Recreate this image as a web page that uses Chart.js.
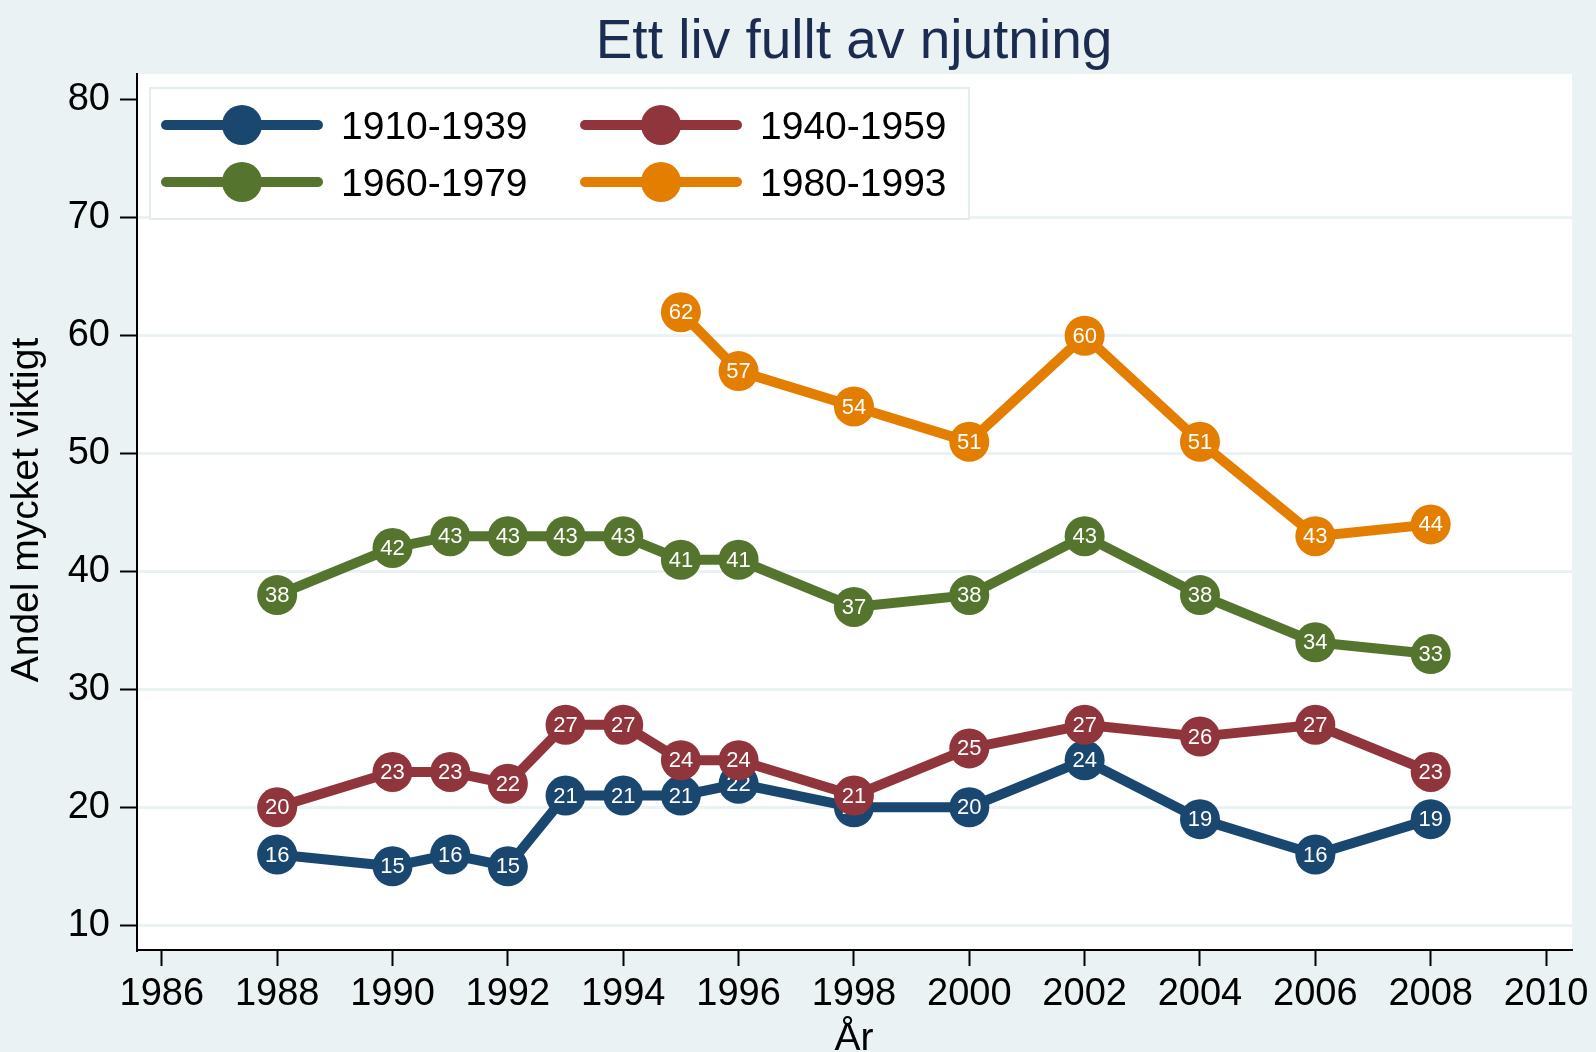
<!DOCTYPE html>
<html>
<head>
<meta charset="utf-8">
<script src="https://cdn.jsdelivr.net/npm/chart.js@4.4.0/dist/chart.umd.min.js"></script>
<style>
  html, body { margin: 0; padding: 0; background: #eaf2f3; }
  #wrap { width: 1596px; height: 1052px; position: relative; }
</style>
</head>
<body>
<div id="wrap"><canvas id="myChart"></canvas></div>
<script>
// survey years and share answering "very important", per birth cohort
const years = [1988, 1990, 1991, 1992, 1993, 1994, 1995, 1996, 1998, 2000, 2002, 2004, 2006, 2008];
const born1910 = [16, 15, 16, 15, 21, 21, 21, 22, 20, 20, 24, 19, 16, 19];
const born1940 = [20, 23, 23, 22, 27, 27, 24, 24, 21, 25, 27, 26, 27, 23];
const born1960 = [38, 42, 43, 43, 43, 43, 41, 41, 37, 38, 43, 38, 34, 33];
const born1980 = [null, null, null, null, null, null, 62, 57, 54, 51, 60, 51, 43, 44];
const cohorts = ["1910-1939", "1940-1959", "1960-1979", "1980-1993"];
const xTicks = [1986, 1988, 1990, 1992, 1994, 1996, 1998, 2000, 2002, 2004, 2006, 2008, 2010];
const yTicks = [10, 20, 30, 40, 50, 60, 70, 80];

const FONT = '"Liberation Sans", Arial, Helvetica, sans-serif';
const colors = ["#1a476f", "#90353b", "#55752f", "#e37e00"];

const makeSet = (label, values, color, order) => ({
  label,
  data: years.map((x, i) => ({ x, y: values[i] })).filter((p) => p.y !== null),
  borderColor: color,
  backgroundColor: color,
  pointBackgroundColor: color,
  pointBorderColor: color,
  borderWidth: 10,
  borderJoinStyle: "round",
  pointRadius: 20,
  pointHoverRadius: 20,
  pointBorderWidth: 0,
  tension: 0,
  order,
});

const plotBackground = {
  id: "plotBackground",
  beforeDraw(chart) {
    const { ctx, chartArea: a } = chart;
    ctx.save();
    ctx.fillStyle = "#ffffff";
    ctx.fillRect(a.left, a.top, a.right - a.left, a.bottom - a.top);
    ctx.restore();
  },
};

// white value labels inside each marker, drawn with its own series
const valueLabels = {
  id: "valueLabels",
  afterDatasetDraw(chart, args) {
    const ctx = chart.ctx;
    const ds = chart.data.datasets[args.index];
    ctx.save();
    ctx.fillStyle = "#ffffff";
    ctx.font = `22px ${FONT}`;
    ctx.textAlign = "center";
    ctx.textBaseline = "middle";
    args.meta.data.forEach((pt, i) => {
      ctx.fillText(String(Math.round(ds.data[i].y)), pt.x, pt.y + 1);
    });
    ctx.restore();
  },
};

const decorations = {
  id: "decorations",
  afterDraw(chart) {
    const ctx = chart.ctx;
    ctx.save();

    // title
    ctx.fillStyle = "#1c2b50";
    ctx.font = `55px ${FONT}`;
    ctx.textAlign = "center";
    ctx.textBaseline = "alphabetic";
    ctx.fillText("Ett liv fullt av njutning", 854, 58);

    // axis titles
    ctx.fillStyle = "#000000";
    ctx.font = `39px ${FONT}`;
    ctx.fillText("År", 854, 1050);
    ctx.save();
    ctx.translate(38, 510);
    ctx.rotate(-Math.PI / 2);
    ctx.fillText("Andel mycket viktigt", 0, 0);
    ctx.restore();

    // legend box
    ctx.fillStyle = "#ffffff";
    ctx.fillRect(150, 88, 819, 131);
    ctx.strokeStyle = "#e3ecee";
    ctx.lineWidth = 2;
    ctx.strokeRect(150, 88, 819, 131);

    chart.data.datasets.forEach((ds, i) => {
      const col = i % 2;
      const row = Math.floor(i / 2);
      const x0 = col === 0 ? 166 : 585;
      const cy = row === 0 ? 125 : 182;
      ctx.strokeStyle = ds.borderColor;
      ctx.lineWidth = 10;
      ctx.lineCap = "round";
      ctx.beginPath();
      ctx.moveTo(x0, cy);
      ctx.lineTo(x0 + 152, cy);
      ctx.stroke();
      ctx.fillStyle = ds.borderColor;
      ctx.beginPath();
      ctx.arc(x0 + 76, cy, 20, 0, Math.PI * 2);
      ctx.fill();
      ctx.fillStyle = "#000000";
      ctx.font = `39px ${FONT}`;
      ctx.textAlign = "left";
      ctx.textBaseline = "middle";
      ctx.fillText(ds.label, x0 + 175, cy + 3);
    });

    ctx.restore();
  },
};

const setupChart = () => {
  const ctx = document.getElementById("myChart");
  const data = {
    datasets: [
      makeSet(cohorts[0], born1910, colors[0], 4),
      makeSet(cohorts[1], born1940, colors[1], 3),
      makeSet(cohorts[2], born1960, colors[2], 2),
      makeSet(cohorts[3], born1980, colors[3], 1),
    ],
  };
  return new Chart(ctx, {
    type: "line",
    data,
    plugins: [plotBackground, valueLabels, decorations],
    options: {
      responsive: true,
      maintainAspectRatio: false,
      animation: false,
      events: [],
      layout: { padding: { top: 74, right: 24, bottom: 0, left: 0 } },
      plugins: {
        legend: { display: false },
        title: { display: false },
        tooltip: { enabled: false },
      },
      scales: {
        x: {
          type: "linear",
          min: 1985.57,
          max: 2010.45,
          bounds: "data",
          afterBuildTicks: (s) => { s.ticks = xTicks.map((v) => ({ value: v })); },
          afterFit: (s) => { s.height = 102; },
          grid: { drawOnChartArea: false, drawTicks: true, tickLength: 16, tickColor: "#000", tickWidth: 2 },
          border: { display: true, color: "#000", width: 2 },
          ticks: {
            color: "#000",
            font: { family: FONT, size: 38 },
            padding: 6,
            maxRotation: 0,
            autoSkip: false,
            callback: (v) => String(v),
          },
        },
        y: {
          type: "linear",
          min: 7.9,
          max: 82.2,
          bounds: "data",
          afterBuildTicks: (s) => { s.ticks = yTicks.map((v) => ({ value: v })); },
          afterFit: (s) => { s.width = 137; },
          grid: {
            color: (c) => (c.tick && c.tick.value === 80 ? "rgba(0,0,0,0)" : "#eaf2f3"),
            lineWidth: 3,
            tickLength: 17,
            tickColor: "#000",
            tickWidth: 2,
          },
          border: { display: true, color: "#000", width: 2 },
          ticks: {
            color: "#000",
            font: { family: FONT, size: 38 },
            padding: 10,
            callback: (v) => String(v),
          },
        },
      },
    },
  });
};

setupChart();
</script>
</body>
</html>
